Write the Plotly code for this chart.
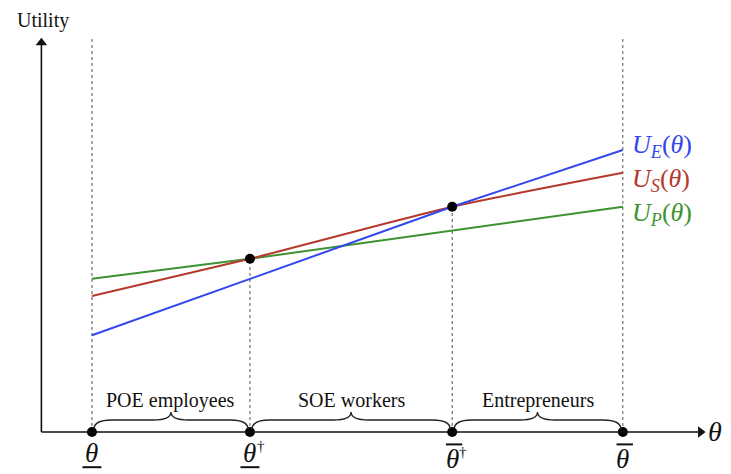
import plotly.graph_objects as go

# ---- data (abstract units) ----
theta_pts = [0.8, 3.3, 6.5, 9.2]          # θ_, θ†_, θ̄†, θ̄
tick_bar = ["under", "under", "over", "over"]
tick_dagger = [False, True, True, False]

ue_x = [0.8, 6.5, 9.2]
ue_y = [2.42, 5.63, 7.05]
us_x = [0.8, 3.3, 6.5, 9.2]
us_y = [3.40, 4.33, 5.63, 6.48]
up_x = [0.8, 3.3, 9.2]
up_y = [3.83, 4.33, 5.63]

groups = ["POE employees", "SOE workers", "Entrepreneurs"]
sub_letters = ["E", "S", "P"]
colors = ["#3347ee", "#b5392b", "#3d9232"]

x_arrow_end = 10.5
y_arrow_end = 9.85

SERIF = "Liberation Serif, Times New Roman, serif"

fig = go.Figure()

# utility curves
fig.add_trace(go.Scatter(x=up_x, y=up_y, mode="lines",
                         line=dict(color=colors[2], width=2), hoverinfo="skip"))
fig.add_trace(go.Scatter(x=us_x, y=us_y, mode="lines",
                         line=dict(color=colors[1], width=2, shape="spline", smoothing=0.6),
                         hoverinfo="skip"))
fig.add_trace(go.Scatter(x=ue_x, y=ue_y, mode="lines",
                         line=dict(color=colors[0], width=2), hoverinfo="skip"))

shapes = []
# axes lines
shapes.append(dict(type="line", x0=0, x1=x_arrow_end - 0.1, y0=0, y1=0, xref="x", yref="y",
                   line=dict(color="#111111", width=1.6)))
shapes.append(dict(type="line", x0=0, x1=0, y0=0, y1=y_arrow_end - 0.15, xref="x", yref="y",
                   line=dict(color="#111111", width=1.6)))

# dotted verticals
for i, xv in enumerate(theta_pts):
    if i in (0, 3):
        top = y_arrow_end
    elif i == 1:
        top = us_y[1]
    else:
        top = us_y[2]
    shapes.append(dict(type="line", x0=xv, x1=xv, y0=0, y1=top, xref="x", yref="y",
                       line=dict(color="#555555", width=1, dash="dot"), layer="below"))

# braces
y0b, y1b, y2b, d = 0.06, 0.30, 0.50, 0.28
for a, b in zip(theta_pts[:-1], theta_pts[1:]):
    xa, xb = a + 0.03, b - 0.03
    m = (a + b) / 2
    path = (f"M {xa},{y0b} Q {xa},{y1b} {xa+d},{y1b} L {m-d},{y1b} "
            f"Q {m},{y1b} {m},{y2b} Q {m},{y1b} {m+d},{y1b} "
            f"L {xb-d},{y1b} Q {xb},{y1b} {xb},{y0b}")
    shapes.append(dict(type="path", path=path, xref="x", yref="y",
                       line=dict(color="#222222", width=1.4)))

# bars on tick labels
for xv, bar in zip(theta_pts, tick_bar):
    yb = -0.88 if bar == "under" else -0.31
    off = 0.0 if bar == "under" else 0.03
    half = 0.15 if bar == "under" else 0.13
    shapes.append(dict(type="line", x0=xv - half + off, x1=xv + half + off, y0=yb, y1=yb,
                       xref="x", yref="y", line=dict(color="#111111", width=2)))

# arrowheads
fig.add_trace(go.Scatter(x=[x_arrow_end - 0.07], y=[0], mode="markers",
                         marker=dict(symbol="triangle-right", size=10, color="#111111"),
                         hoverinfo="skip"))
fig.add_trace(go.Scatter(x=[0], y=[y_arrow_end - 0.12], mode="markers",
                         marker=dict(symbol="triangle-up", size=10, color="#111111"),
                         hoverinfo="skip"))

annotations = []
# axis titles
annotations.append(dict(x=0.02, y=10.28, xref="x", yref="y", text="Utility", showarrow=False,
                        font=dict(family=SERIF, size=20, color="#111111")))
annotations.append(dict(x=x_arrow_end + 0.02, y=0.02, xref="x", yref="y", text="<i>θ</i>",
                        showarrow=False, xanchor="left",
                        font=dict(family=SERIF, size=28, color="#111111")))

# group labels
for g, a, b in zip(groups, theta_pts[:-1], theta_pts[1:]):
    annotations.append(dict(x=(a + b) / 2, y=0.8, xref="x", yref="y", text=g, showarrow=False,
                            font=dict(family=SERIF, size=20, color="#111111")))

# tick labels
for xv, bar, dag in zip(theta_pts, tick_bar, tick_dagger):
    yc = -0.52 if bar == "under" else -0.68
    annotations.append(dict(x=xv, y=yc, xref="x", yref="y", text="<i>θ</i>", showarrow=False,
                            font=dict(family=SERIF, size=27, color="#111111")))
    if dag:
        annotations.append(dict(x=xv + 0.17, y=yc + 0.17, xref="x", yref="y", text="†",
                                showarrow=False, xanchor="center",
                                font=dict(family=SERIF, size=15, color="#111111")))

# curve labels (pixel nudges keep them apart like the reference)
label_y = [ue_y[-1], us_y[-1], up_y[-1]]
label_shift = [4, -7, -7]
for c, yv, sl, sh in zip(colors, label_y, sub_letters, label_shift):
    txt = f"<i>U</i><sub><i>{sl}</i></sub>(<i>θ</i>)"
    annotations.append(dict(x=theta_pts[-1] + 0.12, y=yv, yshift=sh, xref="x", yref="y", text=txt,
                            showarrow=False, xanchor="left",
                            font=dict(family=SERIF, size=26, color=c)))

# dots
dot_x = theta_pts + [theta_pts[1], theta_pts[2]]
dot_y = [0, 0, 0, 0, us_y[1], us_y[2]]
fig.add_trace(go.Scatter(x=dot_x, y=dot_y, mode="markers",
                         marker=dict(color="#000000", size=10), hoverinfo="skip"))

# page body has an 8px margin: offset the ranges so marks land where the reference has them
PX_X, PX_Y = 63.2, 40.0
ORIG_X, ORIG_Y, OFF = 41.4, 432.0, 8
W, H = 731, 474
x_lo = (OFF - ORIG_X) / PX_X
x_hi = (OFF + W - ORIG_X) / PX_X
y_hi = (ORIG_Y - OFF) / PX_Y
y_lo = (ORIG_Y - OFF - H) / PX_Y

fig.update_layout(
    width=W, height=H,
    margin=dict(l=0, r=0, t=0, b=0),
    paper_bgcolor="white", plot_bgcolor="white",
    showlegend=False,
    xaxis=dict(range=[x_lo, x_hi], visible=False, fixedrange=True),
    yaxis=dict(range=[y_lo, y_hi], visible=False, fixedrange=True),
    shapes=shapes, annotations=annotations,
)

fig.write_html("out.html")
